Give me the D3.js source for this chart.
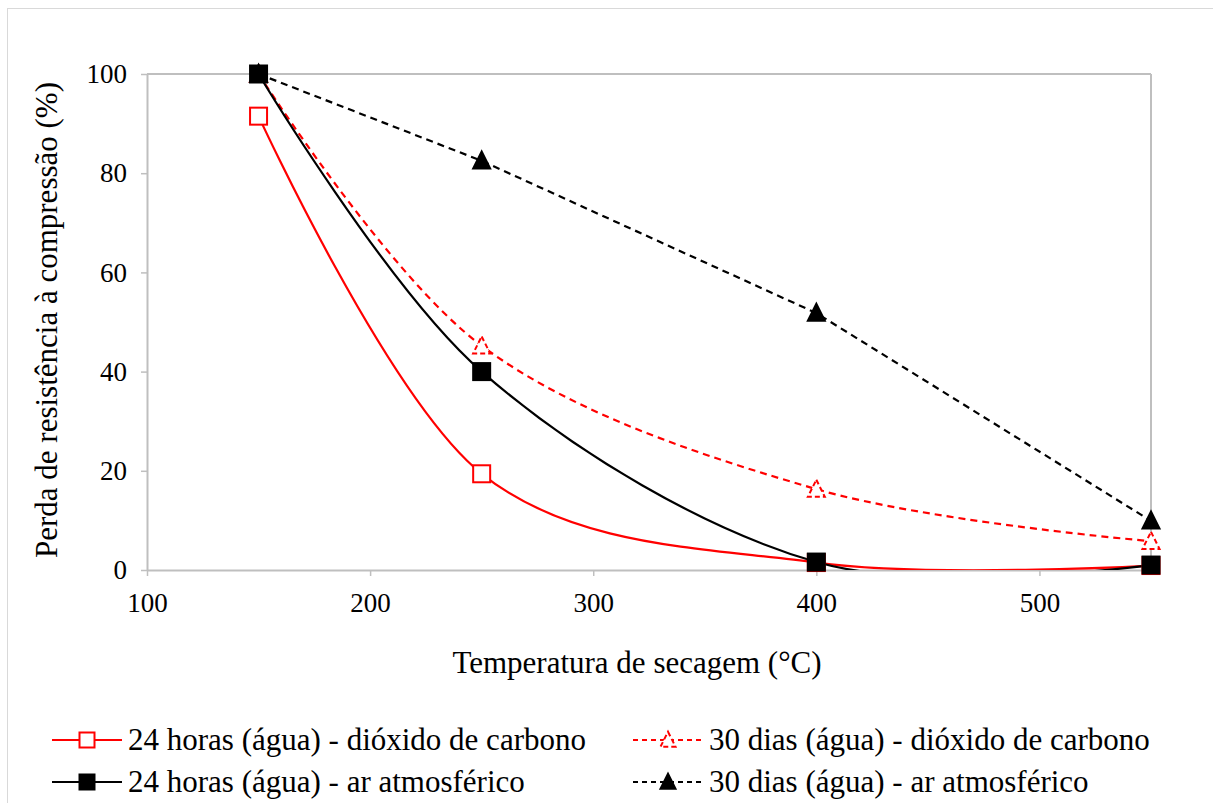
<!DOCTYPE html>
<html lang="pt">
<head>
<meta charset="UTF-8">
<title>Perda de resistência</title>
<script src="https://cdn.jsdelivr.net/npm/d3@7"></script>
<style>
  body { margin: 0; background: #fff; }
  svg text { font-family: "Liberation Serif", "Times New Roman", Times, "DejaVu Serif", serif; fill: #000; }
</style>
</head>
<body>
<svg width="1213" height="803"></svg>
<script>
// data
var temps = [150, 250, 400, 550];
var co2_24h = [91.5, 19.4, 1.5, 0.9];
var co2_30d = [100, 45.2, 16.3, 5.8];
var air_24h = [100, 40, 1.6, 1.0];
var air_30d = [100, 82.5, 51.8, 9.9];
var xTicks = [100, 200, 300, 400, 500];
var yTicks = [0, 20, 40, 60, 80, 100];

var series = [
  { name: "24 horas (água) - dióxido de carbono", values: co2_24h, color: "#ff0000", dash: null, marker: "square", filled: false, smooth: true },
  { name: "24 horas (água) - ar atmosférico", values: air_24h, color: "#000", dash: null, marker: "square", filled: true, smooth: true },
  { name: "30 dias (água) - dióxido de carbono", values: co2_30d, color: "#ff0000", dash: "7,5", marker: "triangle", filled: false, smooth: true },
  { name: "30 dias  (água) - ar atmosférico", values: air_30d, color: "#000", dash: "7,5", marker: "triangle", filled: true, smooth: false }
];

var svg = d3.select("svg");
var serif = '"Liberation Serif", "Times New Roman", Times, "DejaVu Serif", serif';

// outer chart border
svg.append("rect").attr("x", 7.5).attr("y", 8.5).attr("width", 1220).attr("height", 800)
  .attr("fill", "none").attr("stroke", "#d9d9d9");

var x = d3.scaleLinear().domain([100, 550]).range([147, 1151]);
var y = d3.scaleLinear().domain([0, 100]).range([570, 74]);

svg.append("clipPath").attr("id", "plot").append("rect")
  .attr("x", x(100)).attr("y", y(100) - 20).attr("width", x(550) - x(100) + 20).attr("height", y(0) - y(100) + 20);

// plot frame
svg.append("line").attr("x1", x(100)).attr("x2", x(550)).attr("y1", y(100)).attr("y2", y(100))
  .attr("stroke", "#bfbfbf").attr("stroke-width", 2);
svg.append("line").attr("x1", x(550)).attr("x2", x(550)).attr("y1", y(100)).attr("y2", y(0))
  .attr("stroke", "#bfbfbf").attr("stroke-width", 2);

var xAxis = svg.append("g").attr("transform", "translate(0," + y(0) + ")")
  .call(d3.axisBottom(x).tickValues(xTicks).tickSize(6).tickPadding(17).tickSizeOuter(0));
var yAxis = svg.append("g").attr("transform", "translate(" + x(100) + ",0)")
  .call(d3.axisLeft(y).tickValues(yTicks).tickSize(6).tickPadding(14).tickSizeOuter(0));

[xAxis, yAxis].forEach(function(a) {
  a.attr("font-family", serif);
  a.select(".domain").attr("stroke", "#bfbfbf").attr("stroke-width", 2);
  a.selectAll(".tick line").attr("stroke", "#bfbfbf").attr("stroke-width", 1.5);
  a.selectAll(".tick text").attr("font-size", 27).attr("fill", "#000");
});

svg.append("text").attr("x", 637).attr("y", 673).attr("text-anchor", "middle")
  .attr("font-size", 31).text("Temperatura de secagem (°C)");
svg.append("text").attr("transform", "translate(57,320) rotate(-90)").attr("text-anchor", "middle")
  .attr("font-size", 31).text("Perda de resistência à compressão (%)");

var lineSmooth = d3.line().x(function(d) { return x(d[0]); }).y(function(d) { return y(d[1]); })
  .curve(d3.curveCatmullRom.alpha(0));
var lineStraight = d3.line().x(function(d) { return x(d[0]); }).y(function(d) { return y(d[1]); });

function drawMarker(g, s, cx, cy, size) {
  var fill = s.filled ? s.color : "#fff";
  if (s.marker === "square") {
    g.append("rect").attr("x", cx - size / 2).attr("y", cy - size / 2).attr("width", size).attr("height", size)
      .attr("fill", fill).attr("stroke", s.color).attr("stroke-width", 2);
  } else {
    var h = size;
    var pts = [[cx, cy - h * 0.55], [cx + h / 2, cy + h * 0.45], [cx - h / 2, cy + h * 0.45]];
    g.append("polygon").attr("points", pts.map(function(p) { return p.join(","); }).join(" "))
      .attr("fill", fill).attr("stroke", s.color).attr("stroke-width", 2)
      .attr("stroke-dasharray", s.filled ? null : "5,3");
  }
}

var order = [2, 0, 3, 1];
var lines = svg.append("g").attr("clip-path", "url(#plot)");
order.forEach(function(i) {
  var s = series[i];
  var pts = temps.map(function(t, k) { return [t, s.values[k]]; });
  lines.append("path").attr("d", s.smooth ? lineSmooth(pts) : lineStraight(pts))
    .attr("fill", "none").attr("stroke", s.color).attr("stroke-width", 2.2)
    .attr("stroke-dasharray", s.dash);
});
order.forEach(function(i) {
  var s = series[i];
  var g = svg.append("g");
  temps.forEach(function(t, k) { drawMarker(g, s, x(t), y(s.values[k]), 17); });
});

// legend
var legPos = [[52, 740], [52, 782], [633, 740], [633, 782]];
series.forEach(function(s, i) {
  var lx = legPos[i][0], ly = legPos[i][1];
  var g = svg.append("g");
  g.append("line").attr("x1", lx).attr("x2", lx + 70).attr("y1", ly).attr("y2", ly)
    .attr("stroke", s.color).attr("stroke-width", 2.2).attr("stroke-dasharray", s.dash ? "5,4" : null);
  drawMarker(g, s, lx + 35, ly, 15);
  g.append("text").attr("x", lx + 76).attr("y", ly + 10).attr("font-size", 31).text(s.name);
});
</script>
</body>
</html>
